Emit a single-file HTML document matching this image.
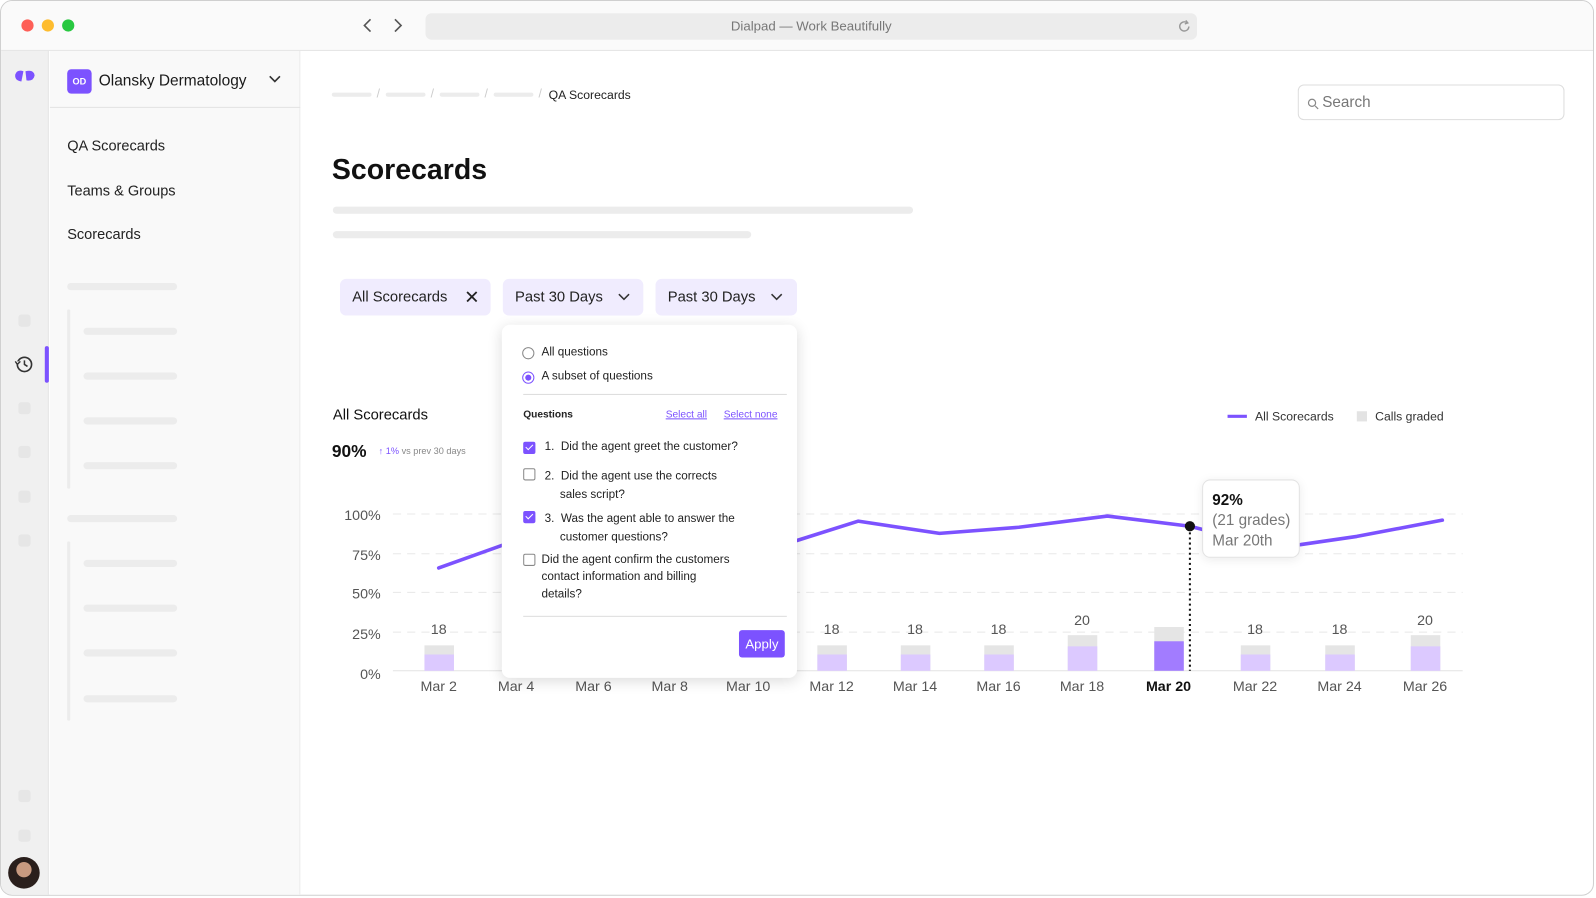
<!DOCTYPE html>
<html><head><meta charset="utf-8"><style>
*{margin:0;padding:0;box-sizing:border-box}
html,body{width:1596px;height:898px;overflow:hidden;background:#fff;font-family:"Liberation Sans",Arial,sans-serif;color:#1a1a1a}
#w{position:absolute;left:-1px;top:-1px;width:1568px;height:882px;transform:scale(1.01786);transform-origin:0 0}
.a{position:absolute}
.win{left:1px;top:1px;width:1566px;height:880px;border:1px solid #cfcfcf;border-radius:12px;overflow:hidden;background:#fff}
.ph{position:absolute;background:#ececec;border-radius:4px}
.sq{position:absolute;left:17px;width:12px;height:12px;border-radius:3px;background:#e6e6e6}
.nav{position:absolute;left:65px;font-size:14.3px;color:#222}
.chip{position:absolute;top:273px;height:36px;background:#f0ecfe;border-radius:6px;font-size:14.5px;color:#222;line-height:36px;padding-left:12px}
.pt{font-size:11.5px;color:#222;position:absolute}
.cb{position:absolute;width:12px;height:12px;border:1.3px solid #888;border-radius:2px;background:#fff}
.cb.on{background:#7c52ff;border-color:#7c52ff}
.cb.on:after{content:"";position:absolute;left:3px;top:0px;width:3px;height:6px;border:solid #fff;border-width:0 1.3px 1.3px 0;transform:rotate(45deg)}
</style></head><body><div id="w">
<div class="a win">
 <div class="a" style="left:0;top:0;width:1566px;height:49px;background:#fafafa;border-bottom:1px solid #e3e3e3"></div>
 <div class="a" style="left:20px;top:18px;width:12px;height:12px;border-radius:6px;background:#fe5f57"></div>
 <div class="a" style="left:40px;top:18px;width:12px;height:12px;border-radius:6px;background:#febc2e"></div>
 <div class="a" style="left:60px;top:18px;width:12px;height:12px;border-radius:6px;background:#28c840"></div>
 <svg class="a" style="left:350px;top:14px" width="50" height="20"><path d="M13 4 L7 10 L13 16" fill="none" stroke="#555" stroke-width="1.6"/><path d="M37 4 L43 10 L37 16" fill="none" stroke="#555" stroke-width="1.6"/></svg>
 <div class="a" style="left:417px;top:12px;width:758px;height:26px;background:#ececec;border-radius:6px;text-align:center;font-size:13px;line-height:26px;color:#777">Dialpad — Work Beautifully</div>
 <svg class="a" style="left:1155px;top:17px" width="16" height="16"><path d="M12 8 A4.5 4.5 0 1 1 10 4.2" fill="none" stroke="#999" stroke-width="1.4"/><path d="M9 2 L11 4.5 L8 5.5" fill="none" stroke="#999" stroke-width="1.3"/></svg>
 <div class="a" style="left:0;top:49px;width:47px;height:832px;background:#f0f0f0;border-right:1px solid #e6e6e6"></div>
 <svg class="a" style="left:12px;top:66px" width="24" height="16"><path d="M2 6 Q4 1 10 3 L8 13 Q1 12 2 6Z M12 3 Q20 1 21 7 Q20 13 13 12Z" fill="#7c52ff"/></svg>
 <div class="sq" style="top:308px"></div>
 <svg class="a" style="left:13px;top:347px" width="20" height="20"><circle cx="10" cy="10" r="7" fill="none" stroke="#333" stroke-width="1.6"/><path d="M10 6 V10 L13 12" fill="none" stroke="#333" stroke-width="1.5"/><path d="M1 7 L3 10 L6 7" fill="#f0f0f0" stroke="#333" stroke-width="1.4"/></svg>
 <div class="a" style="left:43px;top:339px;width:4px;height:36px;background:#7c52ff;border-radius:2px"></div>
 <div class="sq" style="top:394px"></div><div class="sq" style="top:437px"></div><div class="sq" style="top:481px"></div><div class="sq" style="top:524px"></div><div class="sq" style="top:775px"></div><div class="sq" style="top:814px"></div>
 <div class="a" style="left:7px;top:841px;width:31px;height:31px;border-radius:16px;background:radial-gradient(circle at 50% 40%,#c89a80 0 30%,#2a1f1c 32%)"></div>
 <div class="a" style="left:48px;top:49px;width:246px;height:832px;background:#f9f9f9;border-right:1px solid #ececec"></div>
 <div class="a" style="left:48px;top:104px;width:246px;height:1px;background:#e3e3e3"></div>
 <div class="a" style="left:65px;top:67px;width:24px;height:24px;border-radius:4px;background:#7c52ff;color:#fff;font-size:9px;font-weight:bold;text-align:center;line-height:24px">OD</div>
 <div class="a" style="left:96px;top:70px;font-size:15.2px;color:#1a1a1a">Olansky Dermatology</div>
 <svg class="a" style="left:262px;top:72px" width="14" height="10"><path d="M2 2 L7 7 L12 2" fill="none" stroke="#333" stroke-width="1.6"/></svg>
 <div class="nav" style="top:135px">QA Scorecards</div>
 <div class="nav" style="top:179px">Teams &amp; Groups</div>
 <div class="nav" style="top:222px">Scorecards</div>
 <div class="ph" style="left:65px;top:277px;width:108px;height:7px"></div>
 <div class="ph" style="left:65px;top:303px;width:3px;height:176px;border-radius:1px"></div>
 <div class="ph" style="left:81px;top:321px;width:92px;height:7px"></div><div class="ph" style="left:81px;top:365px;width:92px;height:7px"></div><div class="ph" style="left:81px;top:409px;width:92px;height:7px"></div><div class="ph" style="left:81px;top:453px;width:92px;height:7px"></div>
 <div class="ph" style="left:65px;top:505px;width:108px;height:7px"></div>
 <div class="ph" style="left:65px;top:531px;width:3px;height:176px;border-radius:1px"></div>
 <div class="ph" style="left:81px;top:549px;width:92px;height:7px"></div><div class="ph" style="left:81px;top:593px;width:92px;height:7px"></div><div class="ph" style="left:81px;top:637px;width:92px;height:7px"></div><div class="ph" style="left:81px;top:682px;width:92px;height:7px"></div>
 <div class="ph" style="left:325px;top:90px;width:39px;height:4px"></div><div class="ph" style="left:378px;top:90px;width:39px;height:4px"></div><div class="ph" style="left:431px;top:90px;width:39px;height:4px"></div><div class="ph" style="left:484px;top:90px;width:39px;height:4px"></div>
 <div class="a" style="left:369px;top:84px;font-size:12px;color:#ccc">/</div><div class="a" style="left:422px;top:84px;font-size:12px;color:#ccc">/</div><div class="a" style="left:475px;top:84px;font-size:12px;color:#ccc">/</div><div class="a" style="left:528px;top:84px;font-size:12px;color:#ccc">/</div>
 <div class="a" style="left:538px;top:85px;font-size:12px;color:#222">QA Scorecards</div>
 <div class="a" style="left:1274px;top:82px;width:262px;height:35px;border:1px solid #ddd;border-radius:6px"></div>
 <svg class="a" style="left:1283px;top:95px" width="12" height="12"><circle cx="5" cy="5" r="3.5" fill="none" stroke="#888" stroke-width="1.2"/><path d="M8 8 L11 11" stroke="#888" stroke-width="1.2"/></svg>
 <div class="a" style="left:1298px;top:91px;font-size:15px;color:#777">Search</div>
 <div class="a" style="left:325px;top:150px;font-size:28px;font-weight:bold;color:#111">Scorecards</div>
 <div class="ph" style="left:326px;top:202px;width:570px;height:7px"></div>
 <div class="ph" style="left:326px;top:226px;width:411px;height:7px"></div>
 <div class="chip" style="left:333px;width:148px">All Scorecards<span style="position:absolute;left:122px;top:0;font-size:18px">✕</span></div>
 <div class="chip" style="left:493px;width:138px">Past 30 Days<svg style="position:absolute;left:113px;top:14px" width="12" height="8"><path d="M1 1 L6 6 L11 1" fill="none" stroke="#333" stroke-width="1.5"/></svg></div>
 <div class="chip" style="left:643px;width:139px">Past 30 Days<svg style="position:absolute;left:113px;top:14px" width="12" height="8"><path d="M1 1 L6 6 L11 1" fill="none" stroke="#333" stroke-width="1.5"/></svg></div>
 <div class="a" style="left:326px;top:399px;font-size:14.5px;color:#111">All Scorecards</div>
 <div class="a" style="left:325px;top:433px;font-size:17px;font-weight:bold;color:#111">90%</div>
 <div class="a" style="left:371px;top:437px;font-size:9px;color:#888"><span style="color:#7c52ff">↑ 1%</span> vs prev 30 days</div>
 <svg class="a" style="left:0;top:0" width="1566" height="880" font-family="Liberation Sans, Arial, sans-serif">
  <g stroke="#e8e8e8" stroke-dasharray="8 6"><line x1="385" y1="504" x2="1436" y2="504"/><line x1="385" y1="543" x2="1436" y2="543"/><line x1="385" y1="581" x2="1436" y2="581"/><line x1="385" y1="620" x2="1436" y2="620"/></g>
  <line x1="385" y1="658" x2="1436" y2="658" stroke="#e3e3e3"/>
  <g font-size="14" fill="#555" text-anchor="end"><text x="373" y="510">100%</text><text x="373" y="549">75%</text><text x="373" y="587">50%</text><text x="373" y="627">25%</text><text x="373" y="666">0%</text></g>
  <g>
   <rect x="416" y="633" width="29" height="25" fill="#e5e5e5"/><rect x="416" y="642" width="29" height="16" fill="#dcc9ff"/>
   <rect x="802" y="633" width="29" height="25" fill="#e5e5e5"/><rect x="802" y="642" width="29" height="16" fill="#dcc9ff"/>
   <rect x="884" y="633" width="29" height="25" fill="#e5e5e5"/><rect x="884" y="642" width="29" height="16" fill="#dcc9ff"/>
   <rect x="966" y="633" width="29" height="25" fill="#e5e5e5"/><rect x="966" y="642" width="29" height="16" fill="#dcc9ff"/>
   <rect x="1048" y="623" width="29" height="35" fill="#e5e5e5"/><rect x="1048" y="634" width="29" height="24" fill="#dcc9ff"/>
   <rect x="1133" y="615" width="29" height="43" fill="#e5e5e5"/><rect x="1133" y="629" width="29" height="29" fill="#a27cff"/>
   <rect x="1218" y="633" width="29" height="25" fill="#e5e5e5"/><rect x="1218" y="642" width="29" height="16" fill="#dcc9ff"/>
   <rect x="1301" y="633" width="29" height="25" fill="#e5e5e5"/><rect x="1301" y="642" width="29" height="16" fill="#dcc9ff"/>
   <rect x="1385" y="623" width="29" height="35" fill="#e5e5e5"/><rect x="1385" y="634" width="29" height="24" fill="#dcc9ff"/>
  </g>
  <g font-size="14" fill="#555" text-anchor="middle">
   <text x="430" y="622">18</text><text x="816" y="622">18</text><text x="898" y="622">18</text><text x="980" y="622">18</text><text x="1062" y="613">20</text><text x="1232" y="622">18</text><text x="1315" y="622">18</text><text x="1399" y="613">20</text>
   <text x="430" y="678">Mar 2</text><text x="506" y="678">Mar 4</text><text x="582" y="678">Mar 6</text><text x="657" y="678">Mar 8</text><text x="734" y="678">Mar 10</text><text x="816" y="678">Mar 12</text><text x="898" y="678">Mar 14</text><text x="980" y="678">Mar 16</text><text x="1062" y="678">Mar 18</text><text x="1147" y="678" font-weight="bold" fill="#111">Mar 20</text><text x="1232" y="678">Mar 22</text><text x="1315" y="678">Mar 24</text><text x="1399" y="678">Mar 26</text>
  </g>
  <polyline points="430,557 500,532 700,520 782,530 842,511 922,523 1000,517 1087,506 1168,516 1250,537 1277,534 1332,526 1416,510" fill="none" stroke="#7c52ff" stroke-width="3.5" stroke-linejoin="round" stroke-linecap="round"/>
  <line x1="1168" y1="517" x2="1168" y2="658" stroke="#111" stroke-width="2" stroke-dasharray="2 3"/>
  <circle cx="1168" cy="516" r="5" fill="#111"/>
  <line x1="1205" y1="408" x2="1224" y2="408" stroke="#7c52ff" stroke-width="3"/>
  <text x="1232" y="412" font-size="12" fill="#333">All Scorecards</text>
  <rect x="1332" y="403" width="10" height="10" fill="#e3e3e3"/>
  <text x="1350" y="412" font-size="12" fill="#333">Calls graded</text>
 </svg>
 <div class="a" style="left:1180px;top:470px;width:96px;height:77px;background:#fff;border:1px solid #e3e3e3;border-radius:8px;box-shadow:0 2px 10px rgba(0,0,0,.08);padding:10px 0 0 9px;font-size:15px;line-height:20px;color:#777"><b style="color:#111">92%</b><br>(21 grades)<br>Mar 20th</div>
 <div class="a" style="left:492px;top:318px;width:290px;height:347px;background:#fff;border-radius:8px;box-shadow:0 3px 14px rgba(0,0,0,.14)">
  <div class="a" style="left:20px;top:22px;width:12px;height:12px;border:1.3px solid #888;border-radius:6px"></div>
  <div class="pt" style="left:39px;top:21px">All questions</div>
  <div class="a" style="left:20px;top:46px;width:12px;height:12px;border:1.3px solid #7c52ff;border-radius:6px"><div style="position:absolute;left:2px;top:2px;width:6px;height:6px;border-radius:3px;background:#7c52ff"></div></div>
  <div class="pt" style="left:39px;top:45px">A subset of questions</div>
  <div class="a" style="left:21px;top:68px;width:259px;height:1px;background:#ddd"></div>
  <div class="pt" style="left:21px;top:83px;font-size:10px;font-weight:bold">Questions</div>
  <div class="pt" style="left:161px;top:83px;font-size:10px;color:#7c52ff;text-decoration:underline">Select all</div>
  <div class="pt" style="left:218px;top:83px;font-size:10px;color:#7c52ff;text-decoration:underline">Select none</div>
  <div class="cb on" style="left:21px;top:115px"></div>
  <div class="pt" style="left:42px;top:114px">1.&nbsp; Did the agent greet the customer?</div>
  <div class="cb" style="left:21px;top:141px"></div>
  <div class="pt" style="left:42px;top:140px;line-height:18px">2.&nbsp; Did the agent use the corrects<br><span style="padding-left:15px">sales script?</span></div>
  <div class="cb on" style="left:21px;top:183px"></div>
  <div class="pt" style="left:42px;top:182px;line-height:18px">3.&nbsp; Was the agent able to answer the<br><span style="padding-left:15px">customer questions?</span></div>
  <div class="cb" style="left:21px;top:225px"></div>
  <div class="pt" style="left:39px;top:223px;line-height:17px">Did the agent confirm the customers<br>contact information and billing<br>details?</div>
  <div class="a" style="left:21px;top:286px;width:259px;height:1px;background:#ddd"></div>
  <div class="a" style="left:233px;top:300px;width:45px;height:27px;background:#7c52ff;border-radius:3px;color:#fff;font-size:13px;text-align:center;line-height:27px">Apply</div>
 </div>
</div>
</div></body></html>
